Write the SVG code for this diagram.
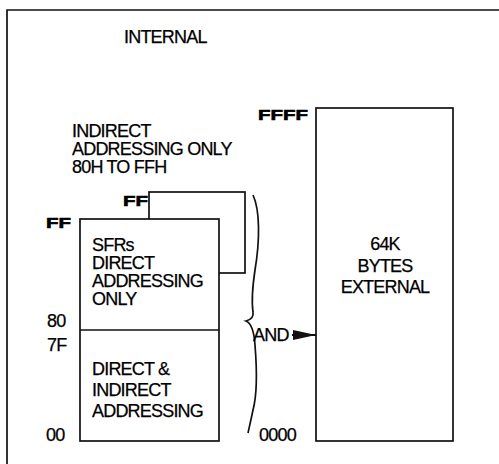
<svg xmlns="http://www.w3.org/2000/svg" width="499" height="464" viewBox="0 0 499 464">
<style>
.t{font-family:"Liberation Sans",Arial,sans-serif;font-size:18px;fill:#000;letter-spacing:-0.8px;stroke:#000;stroke-width:0.25}
.b{font-family:"Liberation Sans",Arial,sans-serif;font-size:15px;font-weight:bold;fill:#000;stroke:#000;stroke-width:0.6}
.box{fill:#fff;stroke:#111;stroke-width:1.7}
.ln{fill:none;stroke:#111;stroke-width:1.7}
</style>
<defs>
<marker id="ah" markerWidth="24" markerHeight="12" refX="23" refY="6" orient="auto" markerUnits="userSpaceOnUse">
<path d="M0,1 L23,6 L0,11 Z" fill="#111"/>
</marker>
</defs>
<rect width="499" height="464" fill="#fff"/>
<path class="ln" d="M7,464 V10 H499"/>
<text class="t" x="124" y="43">INTERNAL</text>
<g id="indirect-note">
<text class="t" x="72" y="137">INDIRECT</text>
<text class="t" x="72" y="155">ADDRESSING ONLY</text>
<text class="t" x="72" y="173">80H TO FFH</text>
</g>
<g id="upper-ram">
<rect class="box" x="149" y="192" width="96" height="81"/>
<text class="b" x="123" y="206" textLength="25" lengthAdjust="spacingAndGlyphs">FF</text>
</g>
<g id="lower-ram">
<rect class="box" x="80" y="219" width="139" height="222"/>
<line class="ln" x1="80" y1="330" x2="219" y2="330"/>
<text class="b" x="46" y="228" textLength="25" lengthAdjust="spacingAndGlyphs">FF</text>
<text class="t" x="92" y="251">SFRs</text>
<text class="t" x="92" y="269">DIRECT</text>
<text class="t" x="92" y="287">ADDRESSING</text>
<text class="t" x="92" y="305">ONLY</text>
<text class="t" x="47" y="327">80</text>
<text class="t" x="47" y="351">7F</text>
<text class="t" x="92" y="375">DIRECT &amp;</text>
<text class="t" x="92" y="396">INDIRECT</text>
<text class="t" x="92" y="417">ADDRESSING</text>
<text class="t" x="46" y="441">00</text>
</g>
<g id="external">
<rect class="box" x="316" y="108" width="137" height="333"/>
<text class="b" x="258" y="120" textLength="50" lengthAdjust="spacingAndGlyphs">FFFF</text>
<text class="t" x="385" y="250" text-anchor="middle">64K</text>
<text class="t" x="385" y="272" text-anchor="middle">BYTES</text>
<text class="t" x="385" y="293" text-anchor="middle">EXTERNAL</text>
<text class="t" x="259" y="441">0000</text>
</g>
<g id="connectors">
<path class="ln" stroke-width="2.2" d="M253,195 C260,210 260,240 255,270 C252,290 252,305 253,312 C254,318 250,320 246,321 C251,323 254,330 255,345 C257,370 257,395 253,410 C251,420 249,428 248,433"/>
<text class="t" x="253" y="341">AND</text>
<line x1="292" y1="335" x2="316" y2="335" stroke="#111" stroke-width="2" marker-end="url(#ah)"/>
</g>
</svg>
